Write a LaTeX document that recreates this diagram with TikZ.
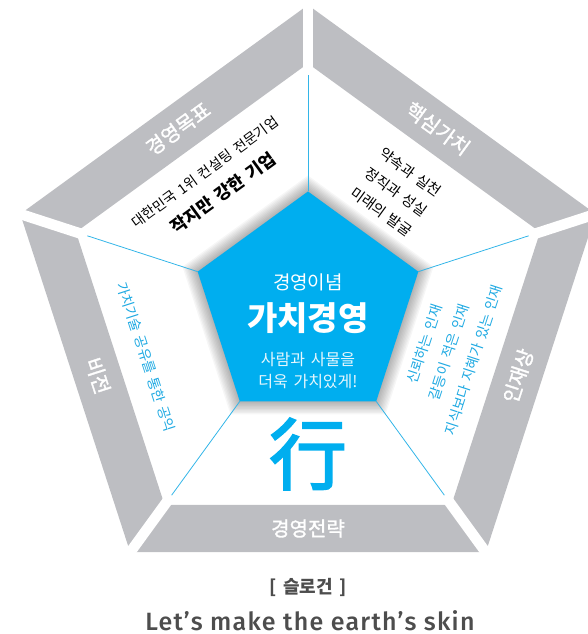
\documentclass[tikz,border=0pt]{standalone}
\usepackage{fontspec}
\setmainfont{Noto Sans CJK KR}[WordSpace=1.6]
\newfontfamily\medfont{Noto Sans CJK KR}[FakeBold=1.6, WordSpace=1.6]
\newfontfamily\glyphfont{Noto Sans CJK KR}[FakeBold=2.2]
\newfontfamily\sloganfont{Fira Sans Medium}[LetterSpace=5]
\definecolor{bandgray}{HTML}{BDBEC2}
\definecolor{mainblue}{HTML}{00AEEF}
\definecolor{lineblue}{HTML}{33B5E8}
\definecolor{textblue}{HTML}{1EA9E2}
\definecolor{slogangray}{HTML}{4D4D4D}
\definecolor{softwhite}{HTML}{E8F7FD}
\tikzset{
  bandtext/.style={text=white, inner sep=0pt, font=\medfont\fontsize{20}{23}\selectfont},
  blacktext/.style={text=black, inner sep=0pt, font=\fontsize{14}{17}\selectfont},
  bluetext/.style={text=textblue, inner sep=0pt, font=\fontsize{14}{17}\selectfont},
  centertext/.style={text=white, inner sep=0pt},
  gapline/.style={white, line width=10.5pt},
  spoke/.style={lineblue, line width=0.8pt}
}
\begin{document}
\begin{tikzpicture}[x=1pt,y=1pt]
\useasboundingbox (-308,-326.5) rectangle (280,307.5);
% gray band
\fill[bandgray, even odd rule]
  (90:302.5) \foreach \a in {162,234,306,18}{-- (\a:302.5)} -- cycle
  (90:244) \foreach \a in {162,234,306,18}{-- (\a:244)} -- cycle;
% gaps between band pieces
\foreach \a in {90,162,234,306,18}
  \draw[gapline] (\a:238) -- (\a:330);
% soft glow around the centre pentagon
\foreach \k in {1,...,10}
  \fill[black, opacity=0.035]
    (90:{115+\k*1.7}) \foreach \a in {162,234,306,18}{-- (\a:{115+\k*1.7})} -- cycle;
% spokes
\foreach \a in {90,162,234,306,18}
  \draw[spoke] (\a:116) -- (\a:232);
% centre pentagon
\fill[mainblue] (90:116) \foreach \a in {162,234,306,18}{-- (\a:116)} -- cycle;

% band labels
\node[bandtext, rotate=36]  (goal)     at (126:221) {경영목표};
\node[bandtext, rotate=-36] (core)     at (54:221)  {핵심가치};
\node[bandtext, rotate=72]  (talent)   at (-18:221) {인재상};
\node[bandtext]             (strategy) at (-90:221) {경영전략};
\node[bandtext, rotate=-72] (vision)   at (198:221) {비전};

% top-left sector
\node[blacktext, rotate=36] (goalA) at (-103,135.5) {대한민국 1위 컨설팅 전문기업};
\node[blacktext, rotate=36, font=\fontsize{17.3}{20}\selectfont\bfseries] (goalB) at (-85,114.5) {작지만 강한 기업};
% top-right sector
\node[blacktext, font=\fontsize{14.5}{17}\selectfont, rotate=-36] (coreA) at (102.4,135.3) {약속과 실천};
\node[blacktext, font=\fontsize{14.5}{17}\selectfont, rotate=-36] (coreB) at (88,115.5) {정직과 성실};
\node[blacktext, font=\fontsize{14.5}{17}\selectfont, rotate=-36] (coreC) at (73.6,95.7) {미래의 발굴};
% right sector
\node[bluetext, rotate=72] (talA) at (116.7,-36.6) {신뢰하는 인재};
\node[bluetext, rotate=72] (talB) at (141,-44.5) {갈등이 적은 인재};
\node[bluetext, rotate=72] (talC) at (165.3,-52.4) {지식보다 지혜가 있는 인재};
% left sector
\node[bluetext, rotate=-72] (visA) at (-162,-49.5) {가치기술 공유를 통한 공익};

% centre texts
\node[centertext, font=\fontsize{19}{22}\selectfont] (ideaA) at (0,25.5) {경영이념};
\node[centertext, font=\fontsize{33}{36}\selectfont\bfseries] (ideaB) at (0,-10.5) {가치경영};
\node[centertext, text=softwhite, font=\fontsize{16}{19}\selectfont] (ideaC) at (0,-52.5) {사람과 사물을};
\node[centertext, text=softwhite, font=\fontsize{16}{19}\selectfont] (ideaD) at (0,-74.5) {더욱 가치있게!};

% action glyph
\node[text=mainblue, inner sep=0pt, font=\glyphfont\fontsize{78}{82}\selectfont] (act) at (0,-146.5) {行};

% slogan
\node[text=slogangray, inner sep=0pt, font=\fontsize{18}{21}\selectfont\bfseries] (sloganA) at (0,-279.5) {[ 슬로건 ]};
\node[text=slogangray, inner sep=0pt, font=\sloganfont\fontsize{25}{29}\selectfont] (sloganB) at (2,-313.5) {Let’s make the earth’s skin};
\end{tikzpicture}
\end{document}
